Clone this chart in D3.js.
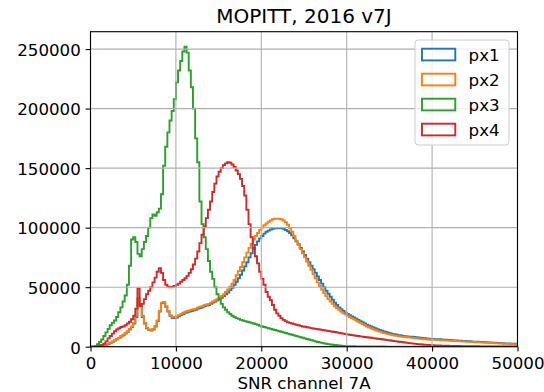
<!DOCTYPE html>
<html>
<head>
<meta charset="utf-8">
<script src="https://cdn.jsdelivr.net/npm/d3@7"></script>
<style>
  html, body { margin: 0; padding: 0; background: #fff; }
  svg { display: block; font-family: "DejaVu Sans", sans-serif; }
</style>
</head>
<body>
<svg id="chart" width="544" height="392"></svg>
<script>
// ---------- data (counts in thousands, bins of 250 starting at 0) ----------
const binStart = 0;
const binWidth = 250;
const seriesNames = ["px1", "px2", "px3", "px4"];
const xTicks = [0, 10000, 20000, 30000, 40000, 50000];
const yTicks = [0, 50000, 100000, 150000, 200000, 250000];

const px1 = [
  0,0,0,0,0, 0.2,0.8,1.5,2.2,3.2, 4.2,5.2,6.2,7.2,8.5, 9.5,11,12.5,14.5,16.5,
  19.5,25,40,35,25, 19.5,15.5,14,13.5,14.5, 17,21.5,29.5,36.5,37, 33.5,29.5,26,24,24,
  24.5,25.5,26.5,27.5,28.5, 29,29.5,30,30.5,31, 32,32.5,33,34,34.5, 35,36,37,38,39,
  40,41,42.5,44,45.5, 47.5,49.5,52,54.5,57.5, 60.5,64,67.5,71,75, 78.5,82,85.5,88.5,91,
  93,95,96.5,97.5,98.5, 99,99.5,99.5,99.5,99.5, 99,98,97,95.5,93.5, 91,88.5,86,83,80,
  77,74,71,68,65, 62,59,56,53,50, 47,44.5,42,39.5,37, 35,33,31.5,30,28.5,
  27.5,26.5,25.5,24.5,23.5, 22.5,21.5,20.5,19.5,18.5, 17.7,17,16.2,15.5,14.8, 14.1,13.5,12.9,12.3,11.8,
  11.3,10.8,10.4,10,9.7, 9.4,9.1,8.9,8.7,8.5, 8.3,8.1,7.9,7.7,7.5, 7.3,7.1,6.9,6.8,6.6,
  6.5,6.4,6.3,6.2,6.0, 5.9,5.8,5.7,5.6,5.4, 5.3,5.2,5.1,5.0,4.9, 4.8,4.7,4.6,4.4,4.3,
  4.2,4.1,4.0,3.9,3.8, 3.7,3.6,3.5,3.4,3.3, 3.2,3.1,3.0,2.9,2.8, 2.8,2.7,2.6,2.5,2.5
];
const px2 = [
  0,0,0,0,0, 0.3,1,1.8,2.5,3.5, 4.5,5.5,6.5,7.5,9, 10,11.5,13,15,17,
  20,26,41,36,26, 20,16,14.5,14,15, 17.5,22,30,37,37.5, 34,30,26.5,25,25,
  25.5,26.5,27.5,28.5,29.5, 30,30.5,31,31.5,32, 33,33.5,34,35,35.5, 36,37,38,39,40,
  41,42.5,44,46,48, 50.5,53,56,60,63.5, 67,71,75,79,83, 86.5,90,93,95.5,98,
  100,102,103.5,105,106, 107,107.5,107.5,107.5,107, 106,104.5,102.5,99.5,96.5, 93,89,85.5,82,78.5,
  75,71.5,68,64.5,61, 57.5,54,51,48,45, 42.5,40,38,36,34, 32.5,31,29.5,28,27,
  26,25,24,23,22, 21,20,19,18,17, 16.2,15.5,14.7,14,13.3, 12.7,12,11.5,11,10.6,
  10.2,9.8,9.4,9.1,8.8, 8.5,8.3,8.1,7.9,7.7, 7.5,7.3,7.1,6.9,6.7, 6.5,6.3,6.2,6.0,5.9,
  5.8,5.7,5.6,5.5,5.4, 5.3,5.2,5.1,5.0,4.9, 4.8,4.7,4.6,4.5,4.4, 4.3,4.2,4.1,4.0,3.9,
  3.8,3.7,3.6,3.5,3.4, 3.3,3.2,3.1,3.0,2.9, 2.8,2.7,2.6,2.5,2.4, 2.35,2.3,2.2,2.15,2.1
];
const px3 = [
  0,0,0.5,2,4, 6,9,12,15,18, 20,22,25,29,33, 38,43,52,68,90,
  92,88,78,76,82, 88,93,100,108,111, 110,113,116,128,152, 168,180,190,198,208,
  222,232,240,248,252, 247,232,218,200,175, 155,122,103,92,82, 72,63,57,50,44,
  40,36,33,31,29, 27.5,26,25,24,23.5, 22.5,22,21.5,21,20.5, 20,19.5,19,18.5,17.5,
  17,16.5,16,15.5,15, 14.5,14,13.5,13,12.5, 12,11.5,11,10.5,10, 9.5,9,8.5,8,7.5,
  7,6.5,6,5.5,5, 4.5,4,3.6,3.2,2.8, 2.5,2.2,1.9,1.6,1.4, 1.2,1.0,0.85,0.7,0.6,
  0.5,0.45,0.4,0.35,0.3, 0.28,0.26,0.24,0.22,0.2, 0.18,0.17,0.16,0.15,0.14, 0.13,0.12,0.11,0.1,0.1,
  0.1,0.09,0.09,0.09,0.08, 0.08,0.08,0.08,0.07,0.07, 0.07,0.07,0.06,0.06,0.06, 0.06,0.06,0.05,0.05,0.05,
  0.05,0.05,0.05,0.04,0.04, 0.04,0.04,0.04,0.04,0.04, 0.03,0.03,0.03,0.03,0.03, 0.03,0.03,0.03,0.03,0.03,
  0.02,0.02,0.02,0.02,0.02, 0.02,0.02,0.02,0.02,0.02, 0.02,0.02,0.02,0.02,0.02, 0.02,0.02,0.02,0.02,0.02
];
const px4 = [
  0,0,0,0.3,0.8, 1.5,2.5,4.5,7,9, 11,13,14.5,15.5,16.5, 17,18,19.5,21,23,
  26,32,49,34,36, 40,44,47,50,54, 58,63,66,62,56, 52,50.5,50,50.5,51,
  52,53,54.5,56,57.5, 59.5,62,65,69,74, 80,87,94,101,108, 115,122,130,137,143,
  147,150,152.5,154,155, 154.5,153,151,148,145, 141,135,127,115,103, 92,83,76,70,63,
  57,52,46,42,39, 35,31,28,26,24, 22.5,21.5,20.5,20,19.5, 19,18.5,18,17.5,17,
  16.7,16.3,16,15.6,15.3, 15,14.7,14.4,14.1,13.8, 13.5,13.2,12.9,12.6,12.3, 12,11.6,11.3,11,10.6,
  10.3,10,9.7,9.5,9.2, 9,8.7,8.5,8.2,8, 7.7,7.5,7.2,7,6.7, 6.5,6.2,6,5.7,5.5,
  5.2,5,4.7,4.5,4.2, 4,3.7,3.5,3.2,3, 2.8,2.6,2.4,2.2,2, 1.8,1.7,1.5,1.4,1.3,
  1.2,1.1,1,0.95,0.9, 0.85,0.8,0.75,0.7,0.65, 0.6,0.57,0.54,0.51,0.48, 0.45,0.42,0.4,0.38,0.36,
  0.34,0.32,0.3,0.29,0.28, 0.27,0.26,0.25,0.24,0.23, 0.22,0.21,0.2,0.2,0.19, 0.18,0.18,0.17,0.17,0.16
];
const seriesValues = [px1, px2, px3, px4];
const colors = ["#1f77b4", "#ff7f0e", "#2ca02c", "#d62728"];

// ---------- layout ----------
const svg = d3.select("#chart");
const plot = { left: 90.5, right: 517.5, top: 31.7, bottom: 346.7 };
const fs = 16.67;

const allMax = d3.max(seriesValues, s => d3.max(s)) * 1000;
const x = d3.scaleLinear().domain([0, 50000]).range([plot.left, plot.right]);
const y = d3.scaleLinear().domain([0, allMax * 1.05]).range([plot.bottom, plot.top]);

svg.append("defs").append("clipPath").attr("id", "clip")
  .append("rect")
  .attr("x", plot.left).attr("y", plot.top)
  .attr("width", plot.right - plot.left).attr("height", plot.bottom - plot.top);

// histograms (step)
const line = d3.line().x(d => x(d[0])).y(d => y(d[1])).curve(d3.curveStepAfter);
const gHist = svg.append("g").attr("clip-path", "url(#clip)");
seriesValues.forEach((vals, k) => {
  const pts = [[binStart, 0]];
  vals.forEach((v, i) => pts.push([binStart + i * binWidth, v * 1000]));
  pts.push([binStart + vals.length * binWidth, vals[vals.length - 1] * 1000]);
  gHist.append("path")
    .attr("d", line(pts))
    .attr("fill", "none")
    .attr("stroke", colors[k])
    .attr("stroke-width", 1.9)
    .attr("stroke-linejoin", "miter");
});

// grid (above patches, like matplotlib default)
const gGrid = svg.append("g");
xTicks.forEach(t => {
  gGrid.append("line")
    .attr("x1", x(t)).attr("x2", x(t)).attr("y1", plot.top).attr("y2", plot.bottom)
    .attr("stroke", "#b0b0b0").attr("stroke-width", 1.1);
});
yTicks.forEach(t => {
  gGrid.append("line")
    .attr("x1", plot.left).attr("x2", plot.right).attr("y1", y(t)).attr("y2", y(t))
    .attr("stroke", "#b0b0b0").attr("stroke-width", 1.1);
});

// axes via d3
const xAxis = d3.axisBottom(x).tickValues(xTicks).tickFormat(d3.format("d"))
  .tickSizeInner(4.86).tickSizeOuter(0).tickPadding(4.86);
const yAxis = d3.axisLeft(y).tickValues(yTicks).tickFormat(d3.format("d"))
  .tickSizeInner(4.86).tickSizeOuter(0).tickPadding(4.86);

const gx = svg.append("g").attr("transform", `translate(0,${plot.bottom})`).call(xAxis);
const gy = svg.append("g").attr("transform", `translate(${plot.left},0)`).call(yAxis);
[gx, gy].forEach(g => {
  g.select(".domain").remove();
  g.selectAll(".tick line").attr("stroke", "#000").attr("stroke-width", 1.1);
  g.selectAll(".tick text").attr("fill", "#000")
    .style("font-family", "DejaVu Sans").style("font-size", fs + "px");
});
gx.selectAll(".tick text").attr("dy", null).attr("y", 22.2);
gy.selectAll(".tick text").attr("dy", null).attr("y", 6.3);

// spines
svg.append("rect")
  .attr("x", plot.left).attr("y", plot.top)
  .attr("width", plot.right - plot.left).attr("height", plot.bottom - plot.top)
  .attr("fill", "none").attr("stroke", "#000").attr("stroke-width", 1.1);

// title and label
svg.append("text")
  .attr("x", (plot.left + plot.right) / 2).attr("y", 23.4)
  .attr("text-anchor", "middle").style("font-size", "20px").attr("fill", "#000")
  .text("MOPITT, 2016 v7J");
svg.append("text")
  .attr("x", (plot.left + plot.right) / 2).attr("y", 389)
  .attr("text-anchor", "middle").style("font-size", fs + "px").attr("fill", "#000")
  .text("SNR channel 7A");

// legend
const lg = { x: 415, y: 40, w: 94, h: 105 };
const gL = svg.append("g");
gL.append("rect")
  .attr("x", lg.x).attr("y", lg.y).attr("width", lg.w).attr("height", lg.h)
  .attr("rx", 3.3).attr("ry", 3.3)
  .attr("fill", "#fff").attr("fill-opacity", 0.8)
  .attr("stroke", "#cccccc").attr("stroke-width", 1);
seriesNames.forEach((name, k) => {
  const cy = lg.y + 14.5 + k * 25;
  gL.append("rect")
    .attr("x", lg.x + 7).attr("y", cy - 5.8)
    .attr("width", 33.3).attr("height", 11.7)
    .attr("fill", "none").attr("stroke", colors[k]).attr("stroke-width", 1.9);
  gL.append("text")
    .attr("x", lg.x + 7 + 33.3 + 13.3).attr("y", cy + 6.3)
    .style("font-size", fs + "px").attr("fill", "#000")
    .text(name);
});
</script>
</body>
</html>
